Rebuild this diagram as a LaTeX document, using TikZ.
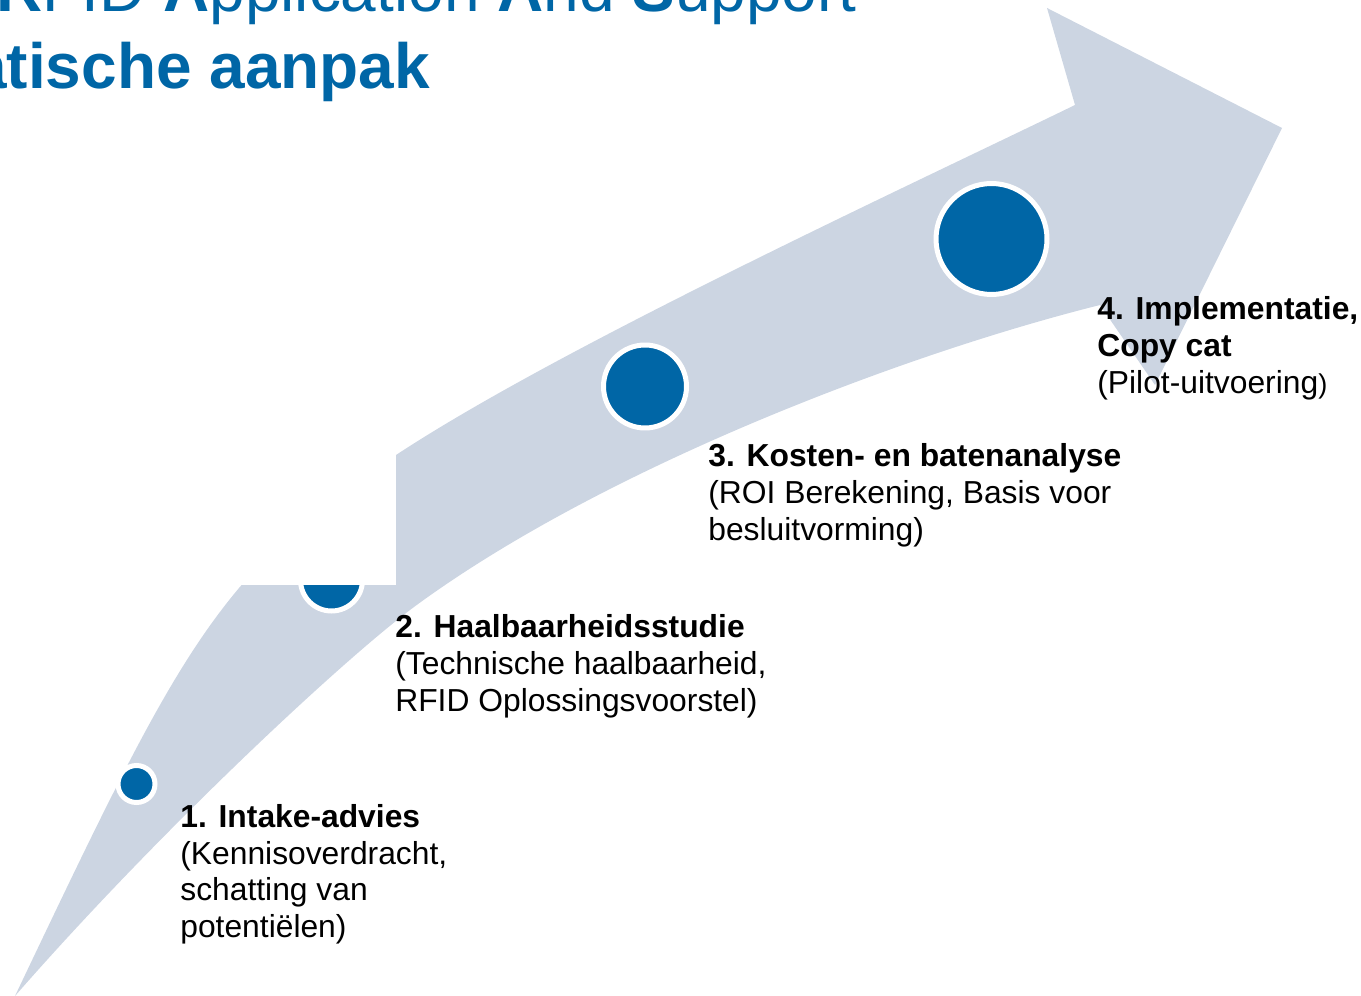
\documentclass[tikz,border=0pt]{standalone}
\usepackage{fontspec}
\setmainfont{Liberation Sans}
\definecolor{arrowgray}{HTML}{CCD5E2}
\definecolor{stepblue}{HTML}{0066A6}
\tikzset{
  stepdot/.style={circle, fill=stepblue, draw=white, line width=0.1cm, inner sep=0pt},
  steptext/.style={anchor=north west, inner sep=0pt, align=left, font=\fontsize{18.1pt}{20.9pt}\selectfont},
  titletext/.style={anchor=base west, inner sep=0pt, text=stepblue, font=\fontsize{36.4pt}{43.8pt}\selectfont}
}
\begin{document}
\begin{tikzpicture}[x=0.02cm,y=-0.02cm]
\useasboundingbox (0,0) rectangle (1361,996);
\clip (0,0) rectangle (1361,996);
% curved arrow
\fill[arrowgray] (15,996)
  .. controls (180,649.5) and (216,573.8) .. (396,455)
  .. controls (560,347) and (900,190) .. (1075,105)
  -- (1047,8) -- (1282,128) -- (1155,385) -- (1100,305)
  .. controls (900,355) and (600,470) .. (414,607)
  .. controls (345,658) and (160,830) .. (15,996)
  -- cycle;
% step dots
\node[stepdot, minimum size=0.74cm] (c1) at (136.5,784) {};
\node[stepdot, minimum size=1.24cm] (c2) at (331.5,580) {};
\fill[white] (200,380) rectangle (396,585);
\node[stepdot, minimum size=1.66cm] (c3) at (645,386.5) {};
\node[stepdot, minimum size=2.22cm] (c4) at (991.5,239) {};
% step texts
\node[steptext] (t1) at (180,804) {\textbf{1. Intake-advies}\\(Kennisoverdracht,\\schatting van\\potentiëlen)};
\node[steptext] (t2) at (395,614.5) {\textbf{2. Haalbaarheidsstudie}\\(Technische haalbaarheid,\\RFID Oplossingsvoorstel)};
\node[steptext] (t3) at (708,443.5) {\textbf{3. Kosten- en batenanalyse}\\(ROI Berekening, Basis voor\\besluitvorming)};
\node[steptext] (t4) at (1097,296.5) {\textbf{4. Implementatie,}\\\textbf{Copy cat}\\(Pilot-uitvoering{\fontsize{15.5pt}{20.9pt}\selectfont )}};
% title
\node[titletext] (title1) at (-4,12) {\textbf{R}FID \textbf{A}pplication \textbf{A}nd \textbf{S}upport};
\node[titletext] (title2) at (-29,89) {\textbf{atische aanpak}};
\end{tikzpicture}
\end{document}
